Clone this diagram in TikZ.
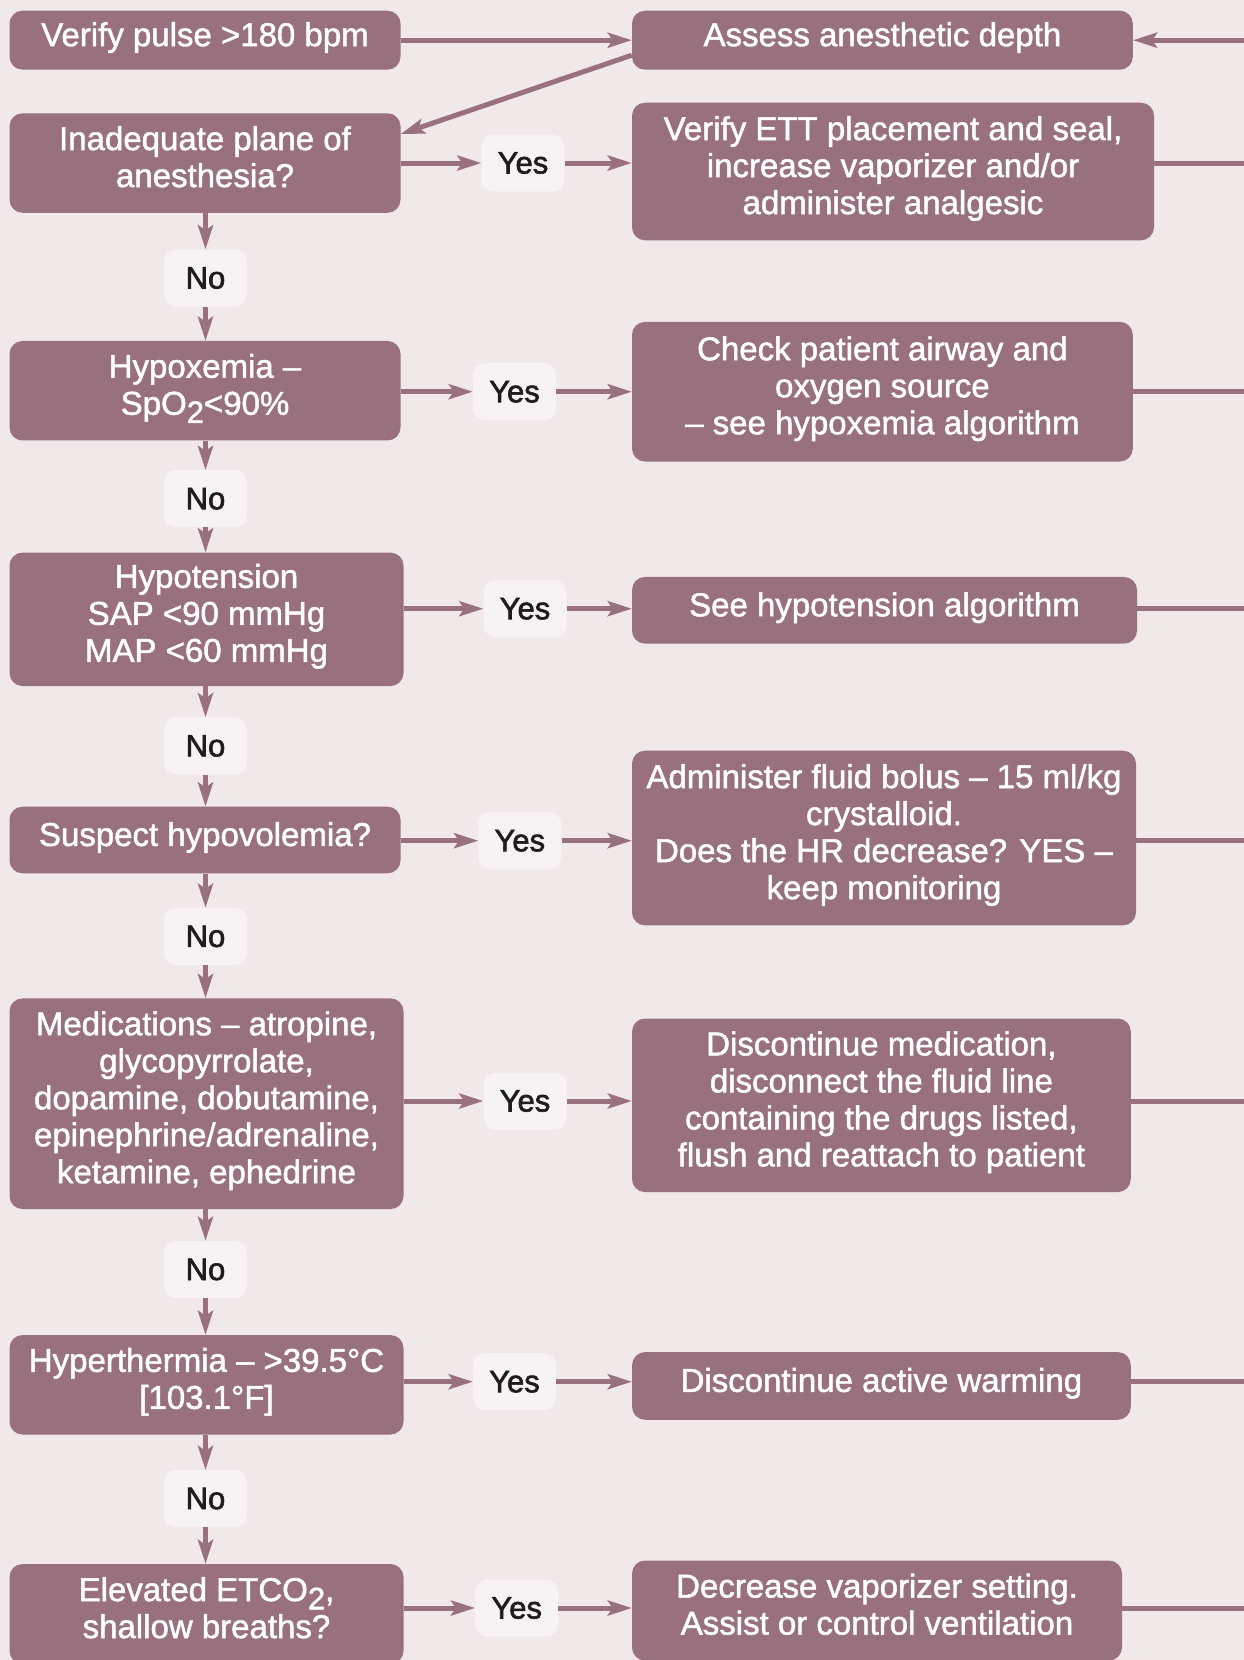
\documentclass[tikz,border=0pt]{standalone}
\usepackage{fontspec}
\setmainfont{Liberation Sans}
\newfontfamily\medfont{Liberation Sans}[FakeBold=1.5]
\newfontfamily\labmedfont{Liberation Sans}[FakeBold=2.0]
\usetikzlibrary{arrows.meta}
\definecolor{bgc}{RGB}{241,232,233}
\definecolor{boxc}{RGB}{152,112,126}
\definecolor{labc}{RGB}{247,242,243}
\definecolor{txtc}{RGB}{30,28,30}
\newcommand{\boxfont}{\medfont\fontsize{33}{37}\selectfont}
\newcommand{\labfont}{\labmedfont\fontsize{31}{31}\selectfont}
\newcommand{\subtwo}{\raisebox{-0.25em}{\fontsize{31}{31}\selectfont 2}}
\begin{document}
\begin{tikzpicture}[x=1pt,y=-1pt,
  box/.style={rectangle, rounded corners=13pt, fill=boxc, text=white, align=center, font=\boxfont, inner sep=0pt,
    execute at begin node={\rule{0pt}{0.75em}}, execute at end node={\rule[-0.39em]{0pt}{0.39em}}},
  lab/.style={rectangle, rounded corners=12pt, fill=labc, text=txtc, font=\labfont, minimum width=83pt, minimum height=57pt, inner sep=0pt},
  arr/.style={draw=boxc, line width=5pt, -{Stealth[length=24pt, width=15pt, inset=5pt]}},
  wire/.style={draw=boxc, line width=5pt}]
\useasboundingbox (0,0) rectangle (1244,1660);
\clip (0,0) rectangle (1244,1660);
\fill[bgc] (0,0) rectangle (1244,1660);
\coordinate (edge) at (1250,0);
% left column
\node[box, minimum width=391pt, minimum height=59pt] (v1) at (205,40.2) {Verify pulse >180 bpm};
\node[box, minimum width=391pt, minimum height=99.5pt] (q1) at (205,163) {Inadequate plane of\\anesthesia?};
\node[lab] (n1) at (205.5,278) {No};
\node[box, minimum width=391pt, minimum height=99.5pt] (q2) at (205,390.7) {Hypoxemia –\\SpO\subtwo<90\%};
\node[lab] (n2) at (205.5,498.7) {No};
\node[box, minimum width=394pt, minimum height=133.4pt] (q3) at (206.5,619.3) {Hypotension\\SAP <90 mmHg\\MAP <60 mmHg};
\node[lab] (n3) at (205.5,745.9) {No};
\node[box, minimum width=391pt, minimum height=66.7pt] (q4) at (205,840) {Suspect hypovolemia?};
\node[lab] (n4) at (205.5,936.4) {No};
\node[box, minimum width=394pt, minimum height=210.7pt] (q5) at (206.5,1103.7) {Medications – atropine,\\glycopyrrolate,\\dopamine, dobutamine,\\epinephrine/adrenaline,\\ketamine, ephedrine};
\node[lab] (n5) at (205.5,1269.5) {No};
\node[box, minimum width=394pt, minimum height=99.5pt] (q6) at (206.5,1384.8) {Hyperthermia – >39.5°C\\{[}103.1°F{]}};
\node[lab] (n6) at (205.5,1498.6) {No};
\node[box, minimum width=394pt, minimum height=100pt] (q7) at (206.5,1614) {Elevated ETCO\subtwo,\\shallow breaths?};
% right column
\node[box, minimum width=500.8pt, minimum height=59pt] (r0) at (882.4,40.2) {Assess anesthetic depth};
\node[box, minimum width=522pt, minimum height=137.6pt] (r1) at (893,171.5) {Verify ETT placement and seal,\\increase vaporizer and/or\\administer analgesic};
\node[box, minimum width=500.8pt, minimum height=139.7pt] (r2) at (882.4,391.7) {Check patient airway and\\oxygen source\\– see hypoxemia algorithm};
\node[box, minimum width=505pt, minimum height=66.7pt] (r3) at (884.5,610.3) {See hypotension algorithm};
\node[box, minimum width=504pt, minimum height=174.7pt] (r4) at (884,838) {Administer fluid bolus – 15 ml/kg\\crystalloid.\\Does the HR decrease? YES –\\keep monitoring};
\node[box, minimum width=498.7pt, minimum height=173.6pt] (r5) at (881.4,1105.3) {Discontinue medication,\\disconnect the fluid line\\containing the drugs listed,\\flush and reattach to patient};
\node[box, minimum width=498.7pt, minimum height=67.7pt] (r6) at (881.4,1385.9) {Discontinue active warming};
\node[box, minimum width=490pt, minimum height=100pt] (r7) at (877,1610.5) {Decrease vaporizer setting.\\Assist or control ventilation};
% yes labels
\node[lab] (y1) at (523,163) {Yes};
\node[lab] (y2) at (514.5,391.7) {Yes};
\node[lab] (y3) at (525,608.7) {Yes};
\node[lab] (y4) at (519.8,840.7) {Yes};
\node[lab] (y5) at (525,1101) {Yes};
\node[lab] (y6) at (514.5,1381.7) {Yes};
\node[lab] (y7) at (516.7,1608) {Yes};
% top connectors
\draw[arr] (v1.east) -- (v1 -| r0.west);
\draw[arr] (edge |- r0) -- (r0.east);
\draw[arr] ([yshift=-15pt]r0.west) -- ([yshift=-21pt]q1.north east);
% no connectors
\foreach \a/\n/\b in {q1/n1/q2, q2/n2/q3, q3/n3/q4, q4/n4/q5, q5/n5/q6, q6/n6/q7}{
  \draw[arr] (\a.south -| \n) -- (\n.north);
  \draw[arr] (\n.south) -- (\n.south |- \b.north);
}
% yes connectors
\foreach \q/\y/\r in {q1/y1/r1, q2/y2/r2, q3/y3/r3, q4/y4/r4, q5/y5/r5, q6/y6/r6, q7/y7/r7}{
  \draw[arr] (\y -| \q.east) -- (\y.west);
  \draw[arr] (\y.east) -- (\y -| \r.west);
  \draw[wire] (\y -| \r.east) -- (\y -| edge);
}
\end{tikzpicture}
\end{document}
